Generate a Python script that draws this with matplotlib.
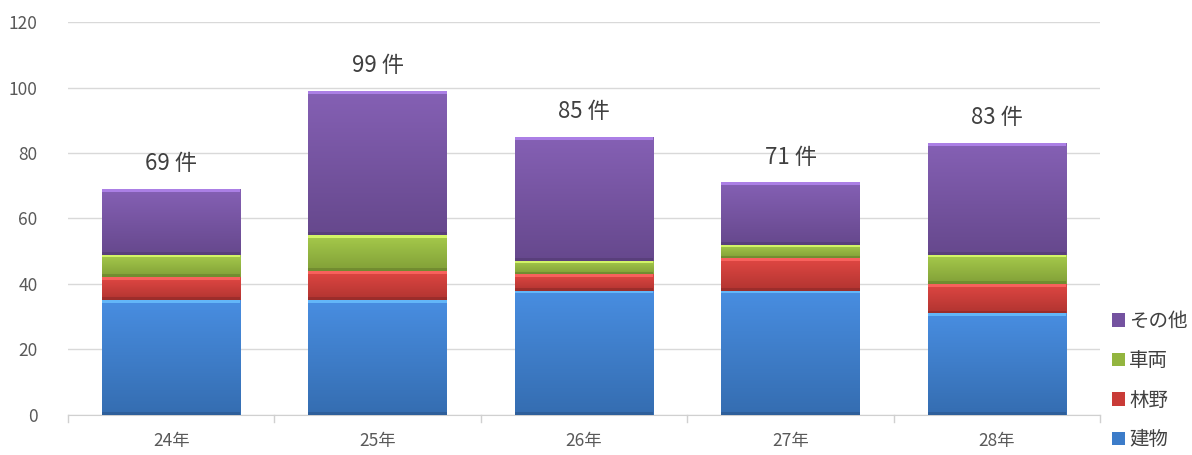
import matplotlib
matplotlib.use("Agg")
import matplotlib.pyplot as plt
import numpy as np
from matplotlib.colors import to_rgb
from matplotlib.patches import Patch

plt.rcParams['font.family'] = ['Noto Sans CJK JP', 'DejaVu Sans']

categories = ['24年', '25年', '26年', '27年', '28年']
series_names = ['建物', '林野', '車両', 'その他']
tatemono = [35, 35, 38, 38, 31]
rinya = [7, 9, 5, 10, 9]
sharyo = [7, 11, 4, 4, 9]
sonota = [20, 44, 38, 19, 34]
totals = [69, 99, 85, 71, 83]
total_labels = ['69 件', '99 件', '85 件', '71 件', '83 件']
yticks = [0, 20, 40, 60, 80, 100, 120]

colors = ['#3c7cc9', '#c93b37', '#93b53f', '#7452a0']

fig = plt.figure(figsize=(11.92, 4.55), dpi=100)
ax = fig.add_axes([0.057, 0.088, 0.866, 0.8636])

x = np.arange(len(categories))
width = 0.67
bottom = np.zeros(len(categories))
data = [tatemono, rinya, sharyo, sonota]
for vals, col, name in zip(data, colors, series_names):
    bars = ax.bar(x, vals, width, bottom=bottom, color=col, edgecolor='none', label=name, zorder=2)
    base = np.array(to_rgb(col))
    light = np.clip(base * 1.08 + 0.03, 0, 1)
    dark = base * 0.88
    for b in bars:
        bx, by = b.get_x(), b.get_y()
        bw, bh = b.get_width(), b.get_height()
        n = 64
        t = np.linspace(0, 1, n)[:, None]
        grad = (dark[None, :] * (1 - t) + light[None, :] * t)
        img = np.repeat(grad[:, None, :], 2, axis=1)
        im = ax.imshow(img, extent=[bx, bx + bw, by, by + bh], origin='lower',
                       aspect='auto', zorder=3, interpolation='bilinear')
        im.set_clip_path(b)
        hh = min(0.9, bh * 0.15)
        ax.bar(bx + bw / 2, hh, bw, bottom=by + bh - hh,
               color=np.clip(base * 1.35 + 0.1, 0, 1), edgecolor='none', zorder=4, alpha=0.8)
        ax.bar(bx + bw / 2, hh, bw, bottom=by,
               color=base * 0.7, edgecolor='none', zorder=4, alpha=0.6)
    bottom += np.array(vals)

for xi, t, lab in zip(x, totals, total_labels):
    ax.text(xi, t + 4.2, lab, ha='center', va='bottom', fontsize=16, color='#404040')

ax.set_xlim(-0.5, len(categories) - 0.5)
ax.set_ylim(0, 120)
ax.set_yticks(yticks)
ax.set_xticks(x)
ax.set_xticklabels(categories)
ax.tick_params(axis='y', length=0, labelsize=12.5, colors='#595959', pad=22)
ax.tick_params(axis='x', length=0, labelsize=12.5, colors='#595959', pad=12)
for b in np.arange(-0.5, len(categories) + 0.5, 1):
    ax.plot([b, b], [0, -2], color='#d0d0d0', lw=1, clip_on=False, zorder=1)
ax.grid(axis='y', color='#d9d9d9', lw=1, zorder=0)
for s in ['top', 'right', 'left']:
    ax.spines[s].set_visible(False)
ax.spines['bottom'].set_color('#d0d0d0')

leg_handles = [Patch(facecolor=c, edgecolor='none') for c in colors][::-1]
leg = fig.legend(leg_handles, series_names[::-1], loc='lower left',
                 bbox_to_anchor=(0.918, -0.028), frameon=False, fontsize=14,
                 handlelength=0.7, handleheight=0.7, handletextpad=0.2,
                 labelspacing=0.95, labelcolor='#404040')

fig.savefig('out.png', dpi=100)
